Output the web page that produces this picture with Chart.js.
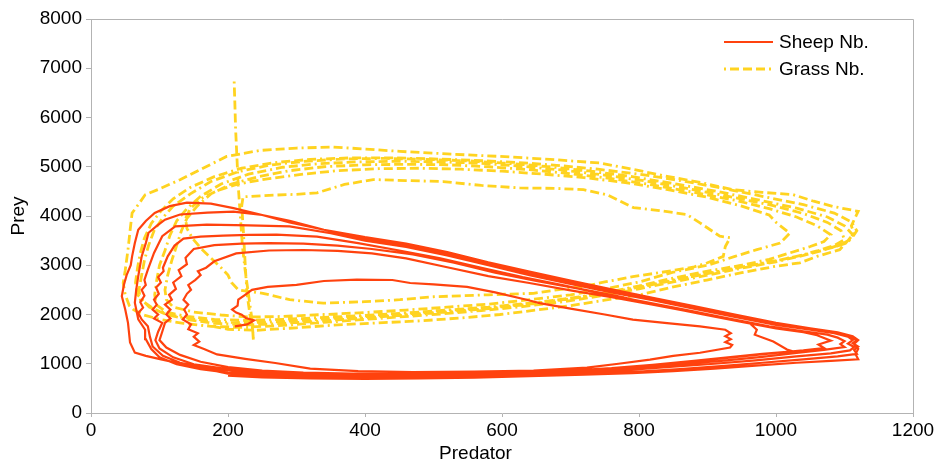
<!DOCTYPE html>
<html><head><meta charset="utf-8">
<script src="https://cdn.jsdelivr.net/npm/chart.js@4.4.1/dist/chart.umd.min.js"></script>
<style>html,body{margin:0;padding:0;background:#fff;}#wrap{width:939px;height:463px;}</style>
</head><body><div id="wrap"><canvas id="c" width="939" height="463"></canvas></div>
<script>
const xTicks = [0,200,400,600,800,1000,1200];
const yTicks = [0,1000,2000,3000,4000,5000,6000,7000,8000];
const seriesNames = ['Sheep Nb.','Grass Nb.'];
const axisTitles = ['Predator','Prey'];

const sheepLoop1 = [[210,1760],[228,1800],[238,1880],[226,1930],[220,1995],[212,2040],[206,2100],[214,2180],[215,2300],[225,2400],[235,2500],[258,2560],[300,2600],[340,2680],[388,2707],[440,2700],[466,2640],[500,2610],[549,2560],[590,2450],[636,2300],[655,2230],[700,2120],[750,2000],[791,1895],[841,1825],[889,1760],[926,1690],[934,1620],[926,1560],[934,1500],[926,1440],[936,1380],[933,1330],[889,1224],[850,1160],[816,1083],[770,1000],[724,920],[646,860],[560,840],[470,830],[390,850],[320,900],[269,1015],[225,1100],[184,1190]];
const sheepLoop2 = [[165,1300],[150,1380],[158,1450],[150,1550],[156,1620],[142,1700],[146,1800],[134,1900],[140,2000],[136,2100],[142,2200],[135,2300],[140,2420],[146,2500],[142,2600],[152,2700],[160,2800],[156,2880],[168,2950],[180,3080],[212,3240],[260,3300],[310,3310],[360,3290],[410,3240],[460,3140],[520,2960],[580,2780],[640,2640],[700,2490],[760,2350],[820,2200],[880,2040],[935,1900],[962,1820],[972,1690],[969,1590],[996,1450],[1016,1290],[1025,1250],[980,1200],[930,1130],[880,1060],[820,980],[760,910],[700,860],[620,820],[540,800],[460,790],[380,800],[310,820],[250,860],[200,930],[160,1040],[130,1180],[110,1330],[100,1480],[104,1650]];
const sheepLoop3 = [[108,1830],[116,1920],[110,2000],[116,2100],[108,2200],[118,2300],[114,2400],[124,2520],[120,2650],[132,2780],[128,2900],[140,3020],[138,3150],[150,3330],[180,3410],[220,3440],[260,3450],[310,3440],[360,3400],[410,3330],[470,3220],[530,3050],[590,2850],[650,2680],[710,2530],[770,2370],[830,2180],[890,2010],[950,1850],[1000,1720],[1040,1640],[1060,1580],[1080,1470],[1062,1390],[1070,1320],[1040,1270],[1000,1220],[950,1150],[900,1080],[840,1000],[780,930],[720,870],[650,830],[570,800],[490,780],[410,775],[330,790],[260,830],[200,890],[150,990],[120,1130],[100,1310],[94,1480],[98,1650]];
const sheepLoop4 = [[104,1830],[92,1920],[98,2000],[90,2100],[96,2200],[92,2300],[99,2420],[95,2550],[102,2650],[98,2760],[106,2880],[105,2950],[112,3180],[122,3400],[135,3540],[160,3580],[193,3600],[230,3615],[271,3620],[330,3580],[390,3450],[450,3300],[510,3140],[570,2950],[630,2760],[690,2590],[750,2410],[810,2250],[870,2090],[930,1920],[990,1760],[1040,1660],[1075,1590],[1090,1530],[1100,1460],[1094,1400],[1100,1340],[1070,1280],[1030,1220],[980,1140],[920,1060],[860,990],[800,920],[740,860],[670,810],[590,770],[510,750],[430,745],[350,755],[280,785],[220,840],[170,910],[130,1020],[105,1160],[90,1350],[86,1550],[83,1760]];
const sheepLoop5 = [[74,1900],[69,2030],[76,2140],[72,2250],[78,2380],[74,2500],[80,2600],[78,2700],[83,2910],[92,3250],[104,3590],[123,3790],[169,3823],[230,3810],[290,3790],[350,3650],[400,3500],[460,3370],[520,3200],[580,3000],[640,2800],[700,2620],[760,2450],[820,2290],[880,2120],[940,1950],[1000,1790],[1050,1690],[1085,1620],[1105,1550],[1112,1480],[1105,1410],[1114,1340],[1108,1270],[1080,1210],[1030,1150],[970,1070],[910,1000],[850,940],[790,880],[720,830],[640,790],[560,760],[480,740],[400,730],[320,740],[250,770],[200,820],[160,890],[125,990],[100,1130],[88,1300],[80,1500],[79,1690]];
const sheepLoop6 = [[69,1900],[64,2240],[66,2500],[69,2780],[74,3180],[80,3450],[84,3660],[96,3800],[108,3925],[130,4030],[170,4070],[208,4090],[250,4020],[290,3900],[340,3720],[400,3540],[460,3410],[520,3240],[580,3030],[640,2840],[700,2660],[760,2480],[820,2320],[880,2150],[940,1980],[1000,1810],[1050,1700],[1090,1620],[1110,1550],[1118,1480],[1112,1420],[1120,1350],[1114,1280],[1118,1200],[1090,1150],[1040,1090],[980,1020],[920,950],[860,890],[800,840],[730,800],[650,765],[570,740],[490,720],[410,710],[330,715],[260,735],[200,800],[152,940],[104,1085],[80,1160],[64,1225],[57,1430]];
const sheepLoop7 = [[54,1830],[50,2100],[45,2370],[48,2600],[52,2800],[58,3000],[60,3180],[64,3450],[69,3720],[80,3900],[93,4060],[115,4200],[140,4270],[175,4250],[208,4160],[250,4020],[290,3870],[340,3720],[400,3570],[460,3440],[520,3270],[580,3060],[640,2870],[700,2690],[760,2510],[820,2340],[880,2170],[940,2000],[1000,1830],[1050,1720],[1090,1640],[1112,1560],[1120,1480],[1114,1400],[1120,1300],[1116,1200],[1120,1090],[1080,1060],[1030,1020],[970,960],[910,900],[850,850],[790,810],[720,780],[640,750],[560,720],[480,700],[400,690],[320,700],[250,725],[200,760]];

const grassLoop1 = [[209,6730],[210,6300],[211,5800],[213,5200],[215,4600],[218,4000],[221,3400],[225,2900],[230,2400],[235,1900],[237,1490],[236,1700],[232,2000],[228,2400],[226,2800],[224,3300],[222,3800],[220,4200],[222,4390],[260,4420],[300,4440],[330,4470],[370,4640],[412,4740],[460,4720],[514,4700],[570,4620],[626,4570],[680,4560],[719,4534],[753,4433],[792,4170],[830,4110],[870,4030],[889,3860],[918,3590],[933,3560],[926,3380],[923,3180],[900,3050],[879,2960],[830,2850],[791,2770],[750,2660],[719,2570],[680,2500],[646,2430],[580,2400],[500,2360],[451,2300],[400,2260],[339,2230],[290,2300],[251,2430],[215,2500],[205,2650],[200,2800]];
const grassLoop2 = [[190,2950],[175,3150],[160,3350],[148,3550],[140,3750],[138,3950],[145,4150],[160,4350],[185,4520],[215,4650],[260,4760],[310,4850],[360,4920],[420,4960],[480,4970],[540,4950],[600,4910],[660,4850],[720,4780],[780,4680],[840,4540],[900,4380],[950,4200],[990,4020],[1001,3860],[1020,3650],[1006,3450],[972,3316],[940,3180],[900,3000],[850,2860],[800,2660],[750,2520],[700,2400],[640,2300],[580,2210],[520,2150],[460,2090],[400,2040],[340,2000],[280,1960],[230,1950],[190,1990],[150,2050],[120,2150]];
const grassLoop3 = [[110,2300],[108,2500],[112,2800],[118,3100],[125,3400],[132,3700],[140,3950],[155,4200],[175,4450],[205,4650],[245,4800],[290,4920],[340,5000],[400,5040],[460,5050],[520,5040],[580,5000],[640,4940],[700,4860],[760,4760],[820,4630],[880,4480],[940,4320],[990,4150],[1030,3980],[1060,3800],[1080,3620],[1070,3480],[1050,3380],[1020,3250],[990,3120],[950,3000],[900,2880],[850,2740],[800,2580],[750,2440],[700,2330],[640,2230],[580,2150],[520,2090],[460,2030],[400,1980],[340,1940],[280,1900],[230,1880],[180,1900],[140,1960],[110,2050]];
const grassLoop4 = [[95,2200],[93,2400],[96,2700],[100,3000],[108,3300],[115,3600],[125,3900],[140,4150],[160,4400],[190,4650],[230,4850],[280,4990],[330,5060],[390,5100],[450,5110],[510,5100],[570,5070],[630,5010],[690,4930],[750,4830],[810,4710],[870,4560],[930,4400],[990,4230],[1040,4050],[1075,3870],[1095,3700],[1100,3520],[1085,3400],[1060,3290],[1030,3180],[990,3060],[940,2940],[890,2810],[840,2670],[790,2530],[740,2410],[690,2300],[630,2200],[570,2120],[510,2060],[450,2000],[390,1950],[330,1900],[270,1850],[220,1830],[170,1870],[130,1950],[100,2060],[88,2150]];
const grassLoop5 = [[72,2300],[70,2500],[74,2800],[78,3100],[84,3400],[92,3700],[104,3950],[120,4200],[145,4450],[175,4700],[215,4900],[260,5030],[310,5110],[370,5160],[430,5170],[490,5150],[550,5120],[610,5070],[670,5000],[730,4910],[790,4800],[850,4660],[910,4510],[970,4340],[1030,4160],[1075,3980],[1100,3800],[1112,3620],[1105,3460],[1080,3350],[1050,3240],[1010,3120],[960,2990],[910,2860],[860,2720],[810,2580],[760,2450],[700,2320],[640,2210],[580,2120],[520,2050],[460,1990],[400,1930],[340,1870],[280,1820],[230,1790],[180,1820],[140,1900],[110,2000],[85,2150]];
const grassLoop6 = [[68,2400],[65,2650],[68,2950],[72,3250],[78,3550],[88,3850],[102,4100],[120,4350],[145,4580],[180,4800],[220,4970],[265,5080],[320,5150],[380,5180],[440,5180],[500,5160],[560,5130],[620,5090],[680,5030],[740,4950],[800,4850],[860,4720],[920,4570],[980,4400],[1040,4230],[1085,4060],[1110,3880],[1118,3700],[1110,3540],[1095,3420],[1070,3310],[1040,3200],[1000,3070],[950,2940],[900,2800],[850,2660],[800,2520],[750,2390],[690,2260],[630,2160],[570,2080],[510,2010],[450,1950],[390,1890],[330,1830],[270,1770],[220,1740],[175,1760],[135,1820],[100,1900],[75,2000],[62,2100]];
const grassLoop7 = [[56,2180],[50,2400],[47,2640],[50,2900],[54,3315],[57,3700],[60,4060],[70,4250],[79,4430],[100,4550],[130,4737],[165,4980],[198,5210],[247,5332],[300,5380],[354,5400],[400,5360],[451,5312],[520,5260],[597,5210],[670,5150],[743,5076],[790,4950],[841,4805],[890,4680],[937,4534],[980,4480],[1025,4433],[1055,4300],[1083,4195],[1120,4094],[1115,3950],[1110,3800],[1114,3650],[1105,3500],[1093,3316],[1060,3180],[1035,3050],[996,2970],[950,2850],[899,2700],[850,2560],[801,2400],[750,2290],[700,2180],[650,2090],[597,2000],[540,1930],[480,1870],[420,1830],[360,1790],[300,1730],[242,1680],[200,1700],[170,1780]];

const toPts = arr => arr.map(p => ({x: p[0], y: p[1]}));
const sheepData = toPts([].concat(sheepLoop1, sheepLoop2, sheepLoop3, sheepLoop4, sheepLoop5, sheepLoop6, sheepLoop7));
const grassData = toPts([].concat(grassLoop1, grassLoop2, grassLoop3, grassLoop4, grassLoop5, grassLoop6, grassLoop7));

const FONT = '"Liberation Sans", Arial, sans-serif';
Chart.defaults.font.family = FONT;
Chart.defaults.font.size = 19;
Chart.defaults.color = '#000000';

const frameColor = '#b3b3b3';

const framePlugin = {
  id: 'frame',
  beforeDatasetsDraw(chart) {
    const {ctx, chartArea: a} = chart;
    ctx.save();
    ctx.strokeStyle = frameColor;
    ctx.lineWidth = 1;
    ctx.beginPath();
    ctx.moveTo(Math.round(a.left), Math.round(a.top) + 0.5);
    ctx.lineTo(Math.round(a.right) + 0.5, Math.round(a.top) + 0.5);
    ctx.lineTo(Math.round(a.right) + 0.5, Math.round(a.bottom));
    ctx.stroke();
    ctx.restore();
  }
};

const textPlugin = {
  id: 'customText',
  afterDraw(chart) {
    const {ctx, chartArea: a} = chart;
    const x0 = a.right - 189, x1 = a.right - 140, tx = a.right - 134;
    const ys = [a.top + 23, a.top + 50];
    ctx.save();
    chart.data.datasets.forEach((ds, i) => {
      ctx.strokeStyle = ds.borderColor;
      ctx.lineWidth = ds.borderWidth;
      ctx.setLineDash(ds.borderDash || []);
      ctx.beginPath();
      ctx.moveTo(x0, ys[i]);
      ctx.lineTo(x1, ys[i]);
      ctx.stroke();
      ctx.setLineDash([]);
      ctx.fillStyle = '#000000';
      ctx.font = '19px ' + FONT;
      ctx.textAlign = 'left';
      ctx.textBaseline = 'middle';
      ctx.fillText(ds.label, tx, ys[i] + 1);
    });
    // x-axis title (offset left of the plot centre as in the original)
    ctx.textAlign = 'center';
    ctx.textBaseline = 'middle';
    ctx.fillText(axisTitles[0], a.left + 384.5, 454);
    ctx.restore();
  }
};

new Chart(document.getElementById('c'), {
  type: 'scatter',
  data: {
    datasets: [
      {label: seriesNames[0], data: sheepData, showLine: true, borderColor: '#ff420e', backgroundColor: '#ff420e', borderWidth: 2.2, pointRadius: 0, pointHoverRadius: 0, tension: 0, fill: false},
      {label: seriesNames[1], data: grassData, showLine: true, borderColor: '#ffd320', backgroundColor: '#ffd320', borderWidth: 2.8, borderDash: [2,4,9,4,9,4,9,4], pointRadius: 0, pointHoverRadius: 0, tension: 0, fill: false}
    ]
  },
  options: {
    responsive: false,
    devicePixelRatio: 1,
    animation: false,
    layout: {padding: {top: 19, right: 26, left: 0, bottom: 0}},
    plugins: {legend: {display: false}, tooltip: {enabled: false}},
    scales: {
      x: {
        type: 'linear', min: 0, max: 1200,
        afterBuildTicks: s => { s.ticks = xTicks.map(v => ({value: v})); },
        afterFit: s => { s.height = 50; },
        ticks: {padding: 2, color: '#000000', font: {size: 19}, callback: v => String(v)},
        grid: {drawOnChartArea: false, drawTicks: true, tickLength: 4, color: frameColor},
        border: {display: true, color: frameColor, width: 1},
        title: {display: false}
      },
      y: {
        type: 'linear', min: 0, max: 8000,
        afterBuildTicks: s => { s.ticks = yTicks.map(v => ({value: v})); },
        afterFit: s => { s.width = 91; },
        ticks: {padding: 4, color: '#000000', font: {size: 19}, callback: v => String(v)},
        grid: {drawOnChartArea: false, drawTicks: true, tickLength: 5, color: frameColor},
        border: {display: true, color: frameColor, width: 1},
        title: {display: true, text: axisTitles[1], color: '#000000', font: {size: 19, lineHeight: 1.2}, padding: {top: 7, bottom: 0}}
      }
    }
  },
  plugins: [framePlugin, textPlugin]
});
</script>
</body></html>
